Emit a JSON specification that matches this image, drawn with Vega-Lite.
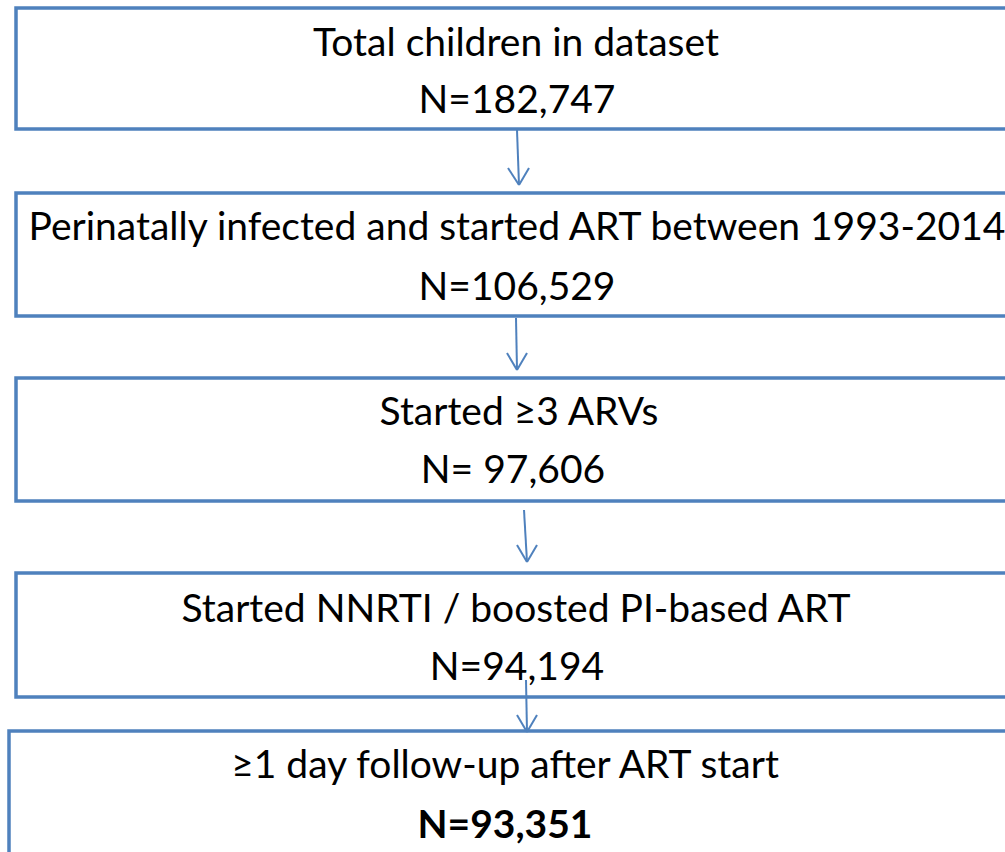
{
  "$schema": "https://vega.github.io/schema/vega-lite/v6.json",
  "width": 1005,
  "height": 852,
  "autosize": "none",
  "padding": 0,
  "background": "white",
  "config": {"view": {"stroke": null}},
  "datasets": {
    "boxes": [
      {"box": 1, "x0": 16, "x1": 1030, "y0": 8, "y1": 129},
      {"box": 2, "x0": 16, "x1": 1030, "y0": 193, "y1": 316},
      {"box": 3, "x0": 16, "x1": 1030, "y0": 378, "y1": 501},
      {"box": 4, "x0": 16, "x1": 1030, "y0": 573, "y1": 697},
      {"box": 5, "x0": 9, "x1": 1030, "y0": 731, "y1": 900}
    ],
    "arrows": [
      {"seg": "a1", "xa": 517, "ya": 130, "xb": 519, "yb": 185},
      {"seg": "a1l", "xa": 508, "ya": 168, "xb": 519, "yb": 185},
      {"seg": "a1r", "xa": 529, "ya": 168, "xb": 519, "yb": 185},
      {"seg": "a2", "xa": 516, "ya": 318, "xb": 517, "yb": 370},
      {"seg": "a2l", "xa": 507, "ya": 353, "xb": 517, "yb": 370},
      {"seg": "a2r", "xa": 527, "ya": 353, "xb": 517, "yb": 370},
      {"seg": "a3", "xa": 524, "ya": 510, "xb": 527, "yb": 562},
      {"seg": "a3l", "xa": 517, "ya": 545, "xb": 527, "yb": 562},
      {"seg": "a3r", "xa": 537, "ya": 545, "xb": 527, "yb": 562},
      {"seg": "a4", "xa": 526, "ya": 680, "xb": 527, "yb": 732},
      {"seg": "a4l", "xa": 517, "ya": 715, "xb": 527, "yb": 732},
      {"seg": "a4r", "xa": 537, "ya": 715, "xb": 527, "yb": 732}
    ],
    "labels": [
      {"label": "Total children in dataset", "tx": 516, "ty": 56, "bold": false},
      {"label": "N=182,747", "tx": 517, "ty": 113, "bold": false},
      {"label": "Perinatally infected and started ART between 1993-2014", "tx": 517, "ty": 240, "bold": false},
      {"label": "N=106,529", "tx": 517, "ty": 300, "bold": false},
      {"label": "Started ≥3 ARVs", "tx": 519, "ty": 425, "bold": false},
      {"label": "N= 97,606", "tx": 513, "ty": 483, "bold": false},
      {"label": "Started NNRTI / boosted PI-based ART", "tx": 516, "ty": 622, "bold": false},
      {"label": "N=94,194", "tx": 517, "ty": 680, "bold": false},
      {"label": "≥1 day follow-up after ART start", "tx": 505, "ty": 778, "bold": false},
      {"label": "N=93,351", "tx": 505, "ty": 838, "bold": true}
    ]
  },
  "layer": [
    {
      "data": {"name": "boxes"},
      "mark": {"type": "rect", "fill": "white", "stroke": "#4F81BD", "strokeWidth": 3.5},
      "encoding": {
        "x": {"field": "x0", "type": "quantitative", "scale": {"domain": [0, 1005], "nice": false, "zero": false}, "axis": null},
        "x2": {"field": "x1"},
        "y": {"field": "y0", "type": "quantitative", "scale": {"domain": [0, 852], "nice": false, "zero": false, "reverse": true}, "axis": null},
        "y2": {"field": "y1"}
      }
    },
    {
      "data": {"name": "arrows"},
      "mark": {"type": "rule", "stroke": "#4F81BD", "strokeWidth": 2},
      "encoding": {
        "x": {"field": "xa", "type": "quantitative"},
        "x2": {"field": "xb"},
        "y": {"field": "ya", "type": "quantitative"},
        "y2": {"field": "yb"}
      }
    },
    {
      "data": {"name": "labels"},
      "transform": [{"filter": "!datum.bold"}],
      "mark": {"type": "text", "font": "Lato", "fontSize": 39, "align": "center", "baseline": "alphabetic", "color": "black"},
      "encoding": {
        "x": {"field": "tx", "type": "quantitative"},
        "y": {"field": "ty", "type": "quantitative"},
        "text": {"field": "label"}
      }
    },
    {
      "data": {"name": "labels"},
      "transform": [{"filter": "datum.bold"}],
      "mark": {"type": "text", "font": "Lato", "fontSize": 39, "fontWeight": "bold", "align": "center", "baseline": "alphabetic", "color": "black"},
      "encoding": {
        "x": {"field": "tx", "type": "quantitative"},
        "y": {"field": "ty", "type": "quantitative"},
        "text": {"field": "label"}
      }
    }
  ]
}
